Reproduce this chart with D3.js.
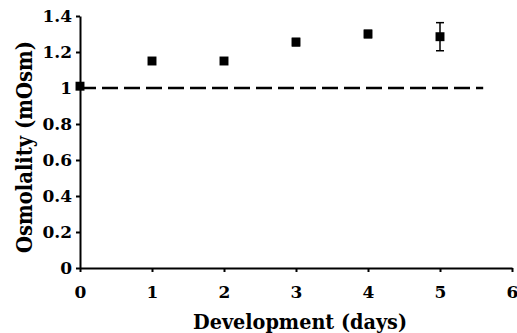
<!DOCTYPE html>
<html>
<head>
<meta charset="utf-8">
<script src="https://cdn.jsdelivr.net/npm/d3@7"></script>
<style>
  body { margin: 0; background: #fff; }
  svg { display: block; }
  .axis path, .axis line { stroke: #000; stroke-width: 2; }
  .axis text { font-family: "DejaVu Serif", serif; font-weight: bold; font-size: 17px; fill: #000; }
  .title { font-family: "DejaVu Serif", serif; font-weight: bold; fill: #000; }
</style>
</head>
<body>
<div id="root"></div>
<script>
const WIDTH = 517;
const HEIGHT = 333;
const MARGIN = {top: 16, right: 5, bottom: 65, left: 80};

// data
const days = [0, 1, 2, 3, 4, 5];
const osmolality = [1.01, 1.15, 1.15, 1.255, 1.30, 1.285];
const errors = [0.015, 0.015, 0.015, 0.02, 0.02, 0.078];
const baseline = 1;
const baselineEnd = 5.6;
const xTicks = [0, 1, 2, 3, 4, 5, 6];
const yTicks = [0, 0.2, 0.4, 0.6, 0.8, 1, 1.2, 1.4];

const xScale = d3.scaleLinear()
    .domain([0, 6])
    .range([MARGIN.left, WIDTH - MARGIN.right]);

const yScale = d3.scaleLinear()
    .domain([0, 1.4])
    .range([HEIGHT - MARGIN.bottom, MARGIN.top]);

const svg = d3.select("#root")
    .append("svg")
    .attr("width", WIDTH)
    .attr("height", HEIGHT);

const xAxis = d3.axisBottom(xScale)
    .tickValues(xTicks)
    .tickFormat(d3.format("d"))
    .tickSizeInner(4)
    .tickSizeOuter(0)
    .tickPadding(14);

const yAxis = d3.axisLeft(yScale)
    .tickValues(yTicks)
    .tickFormat(d => String(+d.toFixed(1)))
    .tickSizeInner(4)
    .tickSizeOuter(0)
    .tickPadding(4);

svg.append("g")
    .attr("class", "axis")
    .attr("transform", `translate(0, ${yScale(0)})`)
    .call(xAxis);

svg.append("g")
    .attr("class", "axis")
    .attr("transform", `translate(${xScale(0)}, 0)`)
    .call(yAxis);

// dashed reference line
svg.append("line")
    .attr("x1", xScale(0))
    .attr("x2", xScale(baselineEnd))
    .attr("y1", yScale(baseline))
    .attr("y2", yScale(baseline))
    .attr("stroke", "#000")
    .attr("stroke-width", 2.5)
    .attr("stroke-dasharray", "16 6");

const points = days.map((d, i) => ({day: d, value: osmolality[i], err: errors[i]}));

// error bars
const bars = svg.append("g").selectAll("g")
    .data(points)
    .enter()
    .append("g")
    .attr("stroke", "#000")
    .attr("stroke-width", 1.5);

bars.append("line")
    .attr("x1", d => xScale(d.day))
    .attr("x2", d => xScale(d.day))
    .attr("y1", d => yScale(d.value + d.err))
    .attr("y2", d => yScale(d.value - d.err));

bars.selectAll(".cap")
    .data(d => [d.value + d.err, d.value - d.err].map(v => ({day: d.day, v: v})))
    .enter()
    .append("line")
    .attr("class", "cap")
    .attr("x1", d => xScale(d.day) - 4)
    .attr("x2", d => xScale(d.day) + 4)
    .attr("y1", d => yScale(d.v))
    .attr("y2", d => yScale(d.v));

// markers
svg.append("g").selectAll("path")
    .data(points)
    .enter()
    .append("path")
    .attr("transform", d => `translate(${xScale(d.day)}, ${yScale(d.value)})`)
    .attr("d", d3.symbol().type(d3.symbolSquare).size(80))
    .attr("fill", "#000");

// axis titles
svg.append("text")
    .attr("class", "title")
    .attr("x", (xScale(0) + xScale(6)) / 2 + 4)
    .attr("y", 329)
    .attr("text-anchor", "middle")
    .attr("font-size", 20)
    .attr("textLength", 214)
    .attr("lengthAdjust", "spacingAndGlyphs")
    .text("Development (days)");

svg.append("text")
    .attr("class", "title")
    .attr("transform", "translate(32, 147) rotate(-90)")
    .attr("text-anchor", "middle")
    .attr("font-size", 22)
    .attr("textLength", 212)
    .attr("lengthAdjust", "spacingAndGlyphs")
    .text("Osmolality (mOsm)");
</script>
</body>
</html>
